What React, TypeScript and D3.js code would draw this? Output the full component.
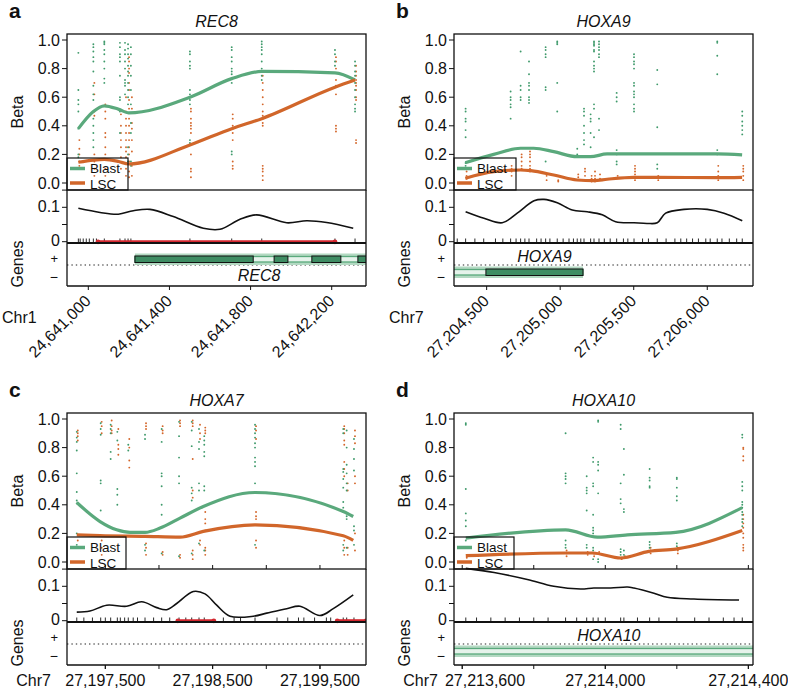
import React from "react";
import * as d3 from "d3";

const FONT = "'Liberation Sans', Arial, Helvetica, sans-serif";
const GREEN = "#5aa97c";
const ORANGE = "#d1662a";
const DOT_GREEN = "#3f9a6b";
const DOT_ORANGE = "#d4662a";
const RED = "#d3262e";

// ---------- Panel meta ----------
const panelLetters = ["a", "b", "c", "d"];
const geneTitles = ["REC8", "HOXA9", "HOXA7", "HOXA10"];
const chromNames = ["Chr1", "Chr7", "Chr7", "Chr7"];
const betaTicks = [0, 0.2, 0.4, 0.6, 0.8, 1.0];
const midTicks = [0, 0.05, 0.1, 0.15];
const midLabels = [0, 0.1];

const domainA = [24640895, 24642369];
const domainB = [27204278, 27206311];
const domainC = [27197143, 27199929];
const domainD = [27213577, 27214413];

const ticksA = [24641000, 24641400, 24641800, 24642200];
const ticksB = [27204500, 27205000, 27205500, 27206000];
const ticksC = [27197500, 27198500, 27199500];
const ticksD = [27213600, 27214000, 27214400];
const minorC = [27197500, 27198000, 27198500, 27199000, 27199500];
const minorD = [27213600, 27213800, 27214000, 27214200, 27214400];

// ---------- Smoothed beta lines ----------
const blastA: [number, number][] = [[24640951, 0.38], [24641025, 0.5], [24641079, 0.54], [24641150, 0.515], [24641199, 0.49], [24641501, 0.6], [24641707, 0.73], [24641855, 0.78], [24642216, 0.77], [24642315, 0.72]];
const lscA: [number, number][] = [[24640951, 0.145], [24641025, 0.16], [24641079, 0.165], [24641150, 0.15], [24641199, 0.133], [24641501, 0.266], [24641707, 0.38], [24641855, 0.45], [24642216, 0.67], [24642315, 0.72]];
const blastB: [number, number][] = [[27204355, 0.142], [27204548, 0.2], [27204730, 0.243], [27204820, 0.243], [27204956, 0.219], [27205115, 0.184], [27205206, 0.184], [27205319, 0.203], [27205500, 0.203], [27206067, 0.203], [27206237, 0.196]];
const lscB: [number, number][] = [[27204355, 0.033], [27204548, 0.079], [27204730, 0.091], [27204800, 0.086], [27204956, 0.056], [27205115, 0.021], [27205230, 0.016], [27205319, 0.026], [27205500, 0.04], [27205659, 0.04], [27206067, 0.037], [27206237, 0.04]];
const blastC: [number, number][] = [[27197234, 0.416], [27197451, 0.283], [27197606, 0.225], [27197730, 0.207], [27197870, 0.207], [27198010, 0.237], [27198196, 0.307], [27198413, 0.388], [27198895, 0.486], [27199717, 0.353], [27199810, 0.318]];
const lscC: [number, number][] = [[27197234, 0.19], [27197451, 0.184], [27197870, 0.179], [27198196, 0.174], [27198413, 0.214], [27198895, 0.26], [27199717, 0.184], [27199810, 0.151]];
const blastD: [number, number][] = [[27213610, 0.167], [27213889, 0.225], [27213978, 0.174], [27214062, 0.19], [27214197, 0.207], [27214383, 0.38]];
const lscD: [number, number][] = [[27213610, 0.044], [27213889, 0.063], [27213964, 0.063], [27214043, 0.028], [27214122, 0.074], [27214197, 0.09], [27214383, 0.22]];

// ---------- Middle track (black curve) ----------
const midA: [number, number][] = [[24640951, 0.097], [24641058, 0.085], [24641148, 0.08], [24641222, 0.09], [24641304, 0.094], [24641419, 0.073], [24641567, 0.039], [24641649, 0.036], [24641748, 0.065], [24641830, 0.078], [24641978, 0.055], [24642077, 0.061], [24642175, 0.056], [24642306, 0.039]];
const midB: [number, number][] = [[27204357, 0.087], [27204482, 0.068], [27204606, 0.055], [27204708, 0.083], [27204822, 0.119], [27204890, 0.123], [27204980, 0.113], [27205082, 0.092], [27205184, 0.087], [27205286, 0.078], [27205377, 0.058], [27205502, 0.055], [27205592, 0.053], [27205660, 0.055], [27205717, 0.083], [27205842, 0.094], [27206000, 0.094], [27206114, 0.083], [27206238, 0.061]];
const midC: [number, number][] = [[27197234, 0.025], [27197357, 0.028], [27197513, 0.045], [27197699, 0.042], [27197839, 0.055], [27197979, 0.038], [27198072, 0.032], [27198165, 0.05], [27198320, 0.085], [27198429, 0.078], [27198538, 0.045], [27198662, 0.013], [27198879, 0.013], [27199004, 0.022], [27199190, 0.035], [27199314, 0.042], [27199500, 0.015], [27199624, 0.035], [27199810, 0.075]];
const midD: [number, number][] = [[27213610, 0.152], [27213689, 0.14], [27213782, 0.12], [27213856, 0.1], [27213931, 0.092], [27213968, 0.095], [27214015, 0.095], [27214062, 0.098], [27214080, 0.095], [27214136, 0.08], [27214173, 0.068], [27214248, 0.063], [27214374, 0.06]];

// ---------- DMR segments ----------
const dmrA: [number, number][] = [[24641048, 24642216]];
const dmrB: [number, number][] = [];
const dmrC: [number, number][] = [[27198176, 27198511], [27199661, 27199929]];
const dmrD: [number, number][] = [];

// ---------- CpG dots ----------
const dotsPosA = [24640951, 24641025, 24641079, 24641156, 24641181, 24641196, 24641210, 24641501, 24641707, 24641855, 24642216, 24642315];
const dotsBlastA = [
  [0.91, 0.65, 0.58, 0.55, 0.5, 0.38, 0.2, 0.18],
  [0.97, 0.95, 0.92, 0.88, 0.85, 0.78, 0.68, 0.62, 0.58, 0.45, 0.4, 0.35, 0.3, 0.25],
  [0.99, 0.98, 0.97, 0.93, 0.9, 0.85, 0.8, 0.73, 0.7],
  [0.98, 0.95, 0.9, 0.88, 0.85, 0.75, 0.6, 0.58, 0.5, 0.35],
  [0.98, 0.93, 0.9, 0.85, 0.8, 0.72, 0.7, 0.68, 0.62],
  [0.97, 0.94, 0.9, 0.87, 0.82, 0.78, 0.75, 0.7, 0.65, 0.6, 0.55, 0.25, 0.2, 0.15],
  [0.95, 0.9, 0.82, 0.75, 0.65, 0.55, 0.42, 0.35, 0.15, 0.12],
  [0.92, 0.9, 0.85, 0.82, 0.8, 0.65, 0.62, 0.58, 0.55, 0.3, 0.28],
  [0.95, 0.93, 0.88, 0.85, 0.8, 0.78, 0.76, 0.73, 0.7, 0.22, 0.2],
  [0.99, 0.97, 0.95, 0.93, 0.9, 0.85, 0.8, 0.78, 0.75, 0.72],
  [0.93, 0.9, 0.85, 0.82],
  [0.85, 0.82, 0.78, 0.75, 0.7, 0.65, 0.6, 0.55, 0.52, 0.5],
];
const dotsLscA = [
  [0.3, 0.24, 0.2, 0.15, 0.12],
  [0.7, 0.62, 0.5, 0.47, 0.2, 0.15, 0.1, 0.05],
  [0.55, 0.5, 0.45, 0.35, 0.32, 0.25, 0.2, 0.1, 0.05],
  [0.48, 0.4, 0.35, 0.3, 0.25, 0.18, 0.1],
  [0.6, 0.5, 0.45, 0.4, 0.35, 0.3, 0.25, 0.22, 0.18, 0.1, 0.05],
  [0.88, 0.85, 0.8, 0.77, 0.7, 0.65, 0.58, 0.52, 0.45, 0.4, 0.35, 0.3, 0.25, 0.2, 0.15, 0.08, 0.04],
  [0.6, 0.52, 0.42, 0.38, 0.3, 0.22, 0.12, 0.05],
  [0.52, 0.5, 0.45, 0.42, 0.4, 0.38, 0.35, 0.2, 0.1, 0.08, 0.04],
  [0.48, 0.45, 0.4, 0.38, 0.35, 0.3, 0.15, 0.12, 0.1],
  [0.75, 0.7, 0.65, 0.6, 0.55, 0.5, 0.47, 0.45, 0.42, 0.4, 0.12, 0.1, 0.08, 0.05, 0.02],
  [0.88, 0.85, 0.8, 0.77, 0.72, 0.68, 0.62, 0.4, 0.38, 0.36],
  [0.82, 0.78, 0.75, 0.72, 0.7, 0.68, 0.65, 0.6, 0.58, 0.3, 0.28],
];

const dotsPosB = [27204357, 27204663, 27204731, 27204788, 27204901, 27204980, 27205116, 27205162, 27205207, 27205230, 27205264, 27205384, 27205502, 27205660, 27206068, 27206238];
const dotsBlastB = [
  [0.52, 0.5, 0.45, 0.43, 0.37, 0.32, 0.14, 0.12],
  [0.64, 0.6, 0.58, 0.55, 0.53, 0.45],
  [0.92, 0.68, 0.65, 0.6, 0.58],
  [0.85, 0.76, 0.7, 0.68, 0.65, 0.6, 0.58, 0.56],
  [0.95, 0.93, 0.9, 0.88, 0.67, 0.65, 0.15],
  [0.99, 0.98, 0.97, 0.7, 0.5],
  [0.24, 0.2],
  [0.52, 0.5, 0.47, 0.4, 0.35, 0.3, 0.27],
  [0.48, 0.45, 0.43, 0.35, 0.25],
  [0.99, 0.98, 0.97, 0.96, 0.93, 0.92, 0.85, 0.82, 0.8, 0.78, 0.55, 0.52, 0.32],
  [0.99, 0.97, 0.95, 0.93, 0.9, 0.88, 0.45, 0.37],
  [0.63, 0.6, 0.57, 0.23, 0.2, 0.15, 0.13],
  [0.9, 0.88, 0.85, 0.83, 0.8, 0.7, 0.68, 0.64, 0.62, 0.6, 0.55, 0.52, 0.5],
  [0.79, 0.69, 0.39, 0.13, 0.1],
  [0.99, 0.98, 0.89, 0.76, 0.23, 0.2],
  [0.5, 0.47, 0.43, 0.4, 0.37, 0.34],
];
const dotsLscB = [
  [0.08, 0.05, 0.03],
  [0.12, 0.1, 0.08, 0.05],
  [0.2, 0.18, 0.15, 0.12, 0.1],
  [0.22, 0.2, 0.18, 0.15, 0.12, 0.1, 0.08],
  [0.05, 0.02],
  [0.05, 0.02, 0.01],
  [0.06, 0.04, 0.02],
  [0.1, 0.08, 0.05],
  [0.05, 0.03, 0.01],
  [0.08, 0.05, 0.03, 0.02, 0.01],
  [0.06, 0.03],
  [0.05],
  [0.12, 0.1, 0.08, 0.06, 0.04, 0.02],
  [0.05, 0.02],
  [0.12, 0.08, 0.05, 0.02],
  [0.12, 0.1, 0.08, 0.05, 0.02],
];

const dotsPosC = [27197234, 27197457, 27197550, 27197612, 27197714, 27197870, 27198025, 27198187, 27198305, 27198373, 27198422, 27198895, 27199717, 27199749, 27199817];
const dotsBlastC = [
  [0.91, 0.87, 0.84, 0.78, 0.62, 0.49, 0.43, 0.41, 0.2, 0.12],
  [0.97, 0.93, 0.89, 0.57, 0.55, 0.36],
  [0.96, 0.93, 0.9, 0.77, 0.72],
  [0.91, 0.85, 0.51, 0.47, 0.4],
  [0.82, 0.78],
  [0.89, 0.86, 0.12, 0.08],
  [0.93, 0.84, 0.62, 0.6, 0.53, 0.4, 0.33, 0.06],
  [0.98, 0.88, 0.73, 0.6, 0.55, 0.04],
  [0.98, 0.92, 0.81, 0.52, 0.48, 0.43, 0.06],
  [0.93, 0.84, 0.79, 0.55, 0.5, 0.13],
  [0.88, 0.85, 0.82, 0.77, 0.74, 0.53, 0.5, 0.08],
  [0.96, 0.93, 0.9, 0.87, 0.83, 0.8, 0.73, 0.7, 0.67, 0.55, 0.12],
  [0.93, 0.9, 0.65, 0.63, 0.58, 0.52, 0.42, 0.38, 0.35, 0.12, 0.08],
  [0.92, 0.8, 0.68, 0.62, 0.55, 0.5, 0.32, 0.3, 0.1],
  [0.86, 0.79, 0.72, 0.64, 0.25, 0.22, 0.12],
];
const dotsLscC = [
  [0.92, 0.9, 0.88, 0.85, 0.15, 0.1],
  [0.98, 0.95, 0.9, 0.15, 0.1, 0.05],
  [0.99, 0.95, 0.92, 0.9],
  [0.93, 0.82, 0.79, 0.75],
  [0.86, 0.8, 0.71, 0.66],
  [0.97, 0.95, 0.93, 0.13, 0.1, 0.05],
  [0.95, 0.92, 0.9, 0.07, 0.05],
  [0.99, 0.97, 0.95, 0.05, 0.03],
  [0.99, 0.97, 0.95, 0.72, 0.5, 0.45, 0.08, 0.05, 0.02],
  [0.96, 0.9, 0.86, 0.15, 0.12],
  [0.94, 0.92, 0.9, 0.35, 0.3, 0.27, 0.22, 0.1, 0.08, 0.05],
  [0.95, 0.92, 0.86, 0.35, 0.32, 0.3, 0.15, 0.1],
  [0.95, 0.93, 0.9, 0.85, 0.82, 0.7, 0.65, 0.6, 0.15, 0.1, 0.05],
  [0.55, 0.5, 0.1, 0.05],
  [0.92, 0.88, 0.83, 0.6, 0.55, 0.2, 0.08],
];

const dotsPosD = [27213610, 27213889, 27213948, 27213966, 27213980, 27214043, 27214052, 27214124, 27214200, 27214383];
const dotsBlastD = [
  [0.97, 0.96, 0.51, 0.34, 0.29, 0.25, 0.15],
  [0.9, 0.62, 0.6, 0.58, 0.55, 0.15, 0.12, 0.1],
  [0.6, 0.52, 0.5, 0.48, 0.36, 0.12, 0.1],
  [0.73, 0.7, 0.55, 0.53, 0.33, 0.24, 0.22, 0.2, 0.1, 0.08, 0.02],
  [0.99, 0.98, 0.7, 0.68, 0.64, 0.48, 0.02, 0.0],
  [0.96, 0.93, 0.55, 0.44, 0.41, 0.09, 0.07, 0.05],
  [0.79, 0.61, 0.37, 0.35, 0.08, 0.05, 0.03],
  [0.65, 0.59, 0.57, 0.53, 0.52, 0.14, 0.12, 0.1],
  [0.59, 0.58, 0.52, 0.46, 0.43, 0.13, 0.11],
  [0.89, 0.87, 0.56, 0.53, 0.5, 0.42, 0.4, 0.38, 0.35, 0.33, 0.3, 0.28, 0.25],
];
const dotsLscD = [
  [0.05, 0.03],
  [0.08, 0.06, 0.04],
  [0.07, 0.05],
  [0.06, 0.04],
  [0.07],
  [0.03, 0.02],
  [0.04],
  [0.1, 0.08, 0.06],
  [0.1, 0.08, 0.06],
  [0.8, 0.79, 0.74, 0.71, 0.33, 0.3, 0.27, 0.24, 0.2, 0.17, 0.12, 0.1, 0.08],
];

// extra CpG positions for the rug
const rugExtraA = [24640960, 24640975, 24640990, 24641005, 24641040];
const rugExtraB = [27204300, 27204420, 27204480, 27204560, 27204610, 27204700, 27204760, 27204840, 27204870, 27204930, 27205020, 27205060, 27205090, 27205140, 27205300, 27205340, 27205430, 27205460, 27205560, 27205600, 27205720, 27205780, 27205820, 27205860, 27205900, 27205940, 27205990, 27206020, 27206100, 27206150, 27206200];
const rugExtraC = [27197300, 27197380, 27197500, 27197640, 27197680, 27197760, 27197800, 27197950, 27198100, 27198250, 27198600, 27198700, 27198760, 27199100, 27199200, 27199300, 27199350, 27199450, 27199560, 27199600];
const rugExtraD = [27213640, 27213680, 27213720, 27213760, 27213800, 27213840, 27213920, 27214000, 27214090, 27214150, 27214250, 27214290, 27214330, 27214360];

// ---------- Genes ----------
type Gene = { name: string; start: number; end: number; strand: "+" | "-"; exons: [number, number][]; labelPos: number };
const genesA: Gene[] = [{ name: "REC8", start: 24641230, end: 24642500, strand: "+", exons: [[24641230, 24641813], [24641916, 24641984], [24642102, 24642245], [24642329, 24642500]], labelPos: 24641842 }];
const genesB: Gene[] = [{ name: "HOXA9", start: 27204100, end: 27205155, strand: "-", exons: [[27204495, 27205155]], labelPos: 27204893 }];
const genesC: Gene[] = [];
const genesD: Gene[] = [{ name: "HOXA10", start: 27213400, end: 27214600, strand: "-", exons: [], labelPos: 27214010 }];

type Cfg = {
  idx: number; left: number; right: number; top: number; domain: number[]; ticks: number[]; minor: number[];
  rotated: boolean; blast: [number, number][]; lsc: [number, number][]; mid: [number, number][];
  dmr: [number, number][]; dotPos: number[]; dotBlast: number[][]; dotLsc: number[][]; rugExtra: number[];
  genes: Gene[]; legendW: number;
};

const fmt = d3.format(",");

function Panel({ c }: { c: Cfg }) {
  const T = c.top;
  const L = c.left, R = c.right;
  const x = d3.scaleLinear().domain(c.domain).range([L, R]);
  const yB = d3.scaleLinear().domain([0, 1]).range([T + 149, T + 6]);
  const yM = d3.scaleLinear().domain([0, 0.1]).range([T + 207.7, T + 173.3]);
  const betaBot = T + 156, midBot = T + 209, genesBot = T + 252;
  const strandY = T + 231;
  const line = d3.line<[number, number]>().x((d) => x(d[0])).y((d) => yB(d[1])).curve(d3.curveMonotoneX);
  const mline = d3.line<[number, number]>().x((d) => x(d[0])).y((d) => yM(d[1])).curve(d3.curveCatmullRom.alpha(0.5));
  const clipId = `clip${c.idx}`;
  const rug = [...c.dotPos, ...c.rugExtra];
  const txt = { fontFamily: FONT, fill: "#111" } as const;
  const chromEnd = c.rotated ? L - 32 : L - 16;

  return (
    <g>
      <defs>
        <clipPath id={clipId}>
          <rect x={L} y={T} width={R - L} height={genesBot - T} />
        </clipPath>
      </defs>
      {/* letter and title */}
      <text x={L - 58} y={c.top - 16} fontSize={21} fontWeight="bold" {...txt}>{panelLetters[c.idx]}</text>
      <text x={(L + R) / 2} y={T - 7} fontSize={16} fontStyle="italic" textAnchor="middle" {...txt}>{geneTitles[c.idx]}</text>

      {/* dots */}
      <g clipPath={`url(#${clipId})`}>
        {c.dotPos.map((p, i) => (
          <g key={"l" + i}>
            {c.dotLsc[i].map((v, j) => <circle key={j} cx={x(p) + 1} cy={yB(v)} r={0.95} fill={DOT_ORANGE} />)}
          </g>
        ))}
        {c.dotPos.map((p, i) => (
          <g key={"b" + i}>
            {c.dotBlast[i].map((v, j) => <circle key={j} cx={x(p)} cy={yB(v)} r={0.95} fill={DOT_GREEN} />)}
          </g>
        ))}
        <path d={line(c.blast) || ""} fill="none" stroke={GREEN} strokeWidth={3.2} strokeLinejoin="round" />
        <path d={line(c.lsc) || ""} fill="none" stroke={ORANGE} strokeWidth={3.2} strokeLinejoin="round" />
        {/* middle track */}
        <path d={mline(c.mid) || ""} fill="none" stroke="#111" strokeWidth={1.6} />
        {rug.map((p, i) => <line key={"r" + i} x1={x(p)} x2={x(p)} y1={T + 204.5} y2={T + 208} stroke="#111" strokeWidth={0.9} />)}
        {c.dmr.map((s, i) => (
          <g key={"d" + i}>
            <line x1={x(s[0])} x2={x(s[1])} y1={T + 207.8} y2={T + 207.8} stroke={RED} strokeWidth={3.2} />
            <circle cx={x(s[0])} cy={T + 207.8} r={2.4} fill={RED} />
            <circle cx={x(s[1])} cy={T + 207.8} r={2.4} fill={RED} />
          </g>
        ))}
        {/* genes */}
        <line x1={L} x2={R} y1={strandY} y2={strandY} stroke="#222" strokeWidth={1.2} strokeDasharray="1.4,3" />
        {c.genes.map((g, i) => {
          const y0 = g.strand === "+" ? T + 219.5 : T + 232.5;
          const h = 11.5;
          return (
            <g key={"g" + i}>
              <rect x={x(g.start)} y={y0} width={x(g.end) - x(g.start)} height={h} fill="#b3d9c2" />
              <rect x={x(g.start)} y={y0 + 3} width={x(g.end) - x(g.start)} height={h - 6} fill="#e6f3eb" stroke="#5aa97c" strokeWidth={1.3} />
              {g.exons.map((e, k) => (
                <rect key={k} x={x(e[0])} y={y0 + 2.5} width={x(e[1]) - x(e[0])} height={h - 5} fill="#3e8d63" stroke="#111" strokeWidth={1} />
              ))}
            </g>
          );
        })}
      </g>
      {c.genes.map((g, i) => (
        <text key={"gl" + i} x={x(g.labelPos)} y={g.strand === "+" ? T + 247 : T + 228} fontSize={16} fontStyle="italic" textAnchor="middle" {...txt}>{g.name}</text>
      ))}

      {/* legend */}
      <rect x={L} y={T + 124} width={c.legendW} height={32} fill="none" stroke="#111" strokeWidth={1.2} />
      <line x1={L + 3} x2={L + 18} y1={T + 134.5} y2={T + 134.5} stroke={GREEN} strokeWidth={3.5} />
      <line x1={L + 3} x2={L + 18} y1={T + 149} y2={T + 149} stroke={ORANGE} strokeWidth={3.5} />
      <text x={L + 23} y={T + 139} fontSize={13.5} {...txt}>Blast</text>
      <text x={L + 23} y={T + 154.5} fontSize={13.5} {...txt}>LSC</text>

      {/* frames */}
      <rect x={L} y={T} width={R - L} height={betaBot - T} fill="none" stroke="#111" strokeWidth={1.3} />
      <line x1={L} x2={L} y1={betaBot} y2={genesBot} stroke="#111" strokeWidth={1.3} />
      <line x1={R} x2={R} y1={betaBot} y2={genesBot} stroke="#111" strokeWidth={1.3} />
      <line x1={L} x2={R} y1={genesBot} y2={genesBot} stroke="#111" strokeWidth={1.3} />
      <line x1={L} x2={R} y1={midBot} y2={midBot} stroke="#111" strokeWidth={2.2} />

      {/* beta axis */}
      {betaTicks.map((t) => (
        <g key={"bt" + t}>
          <line x1={L - 5} x2={L} y1={yB(t)} y2={yB(t)} stroke="#111" strokeWidth={1} />
          <text x={L - 7} y={yB(t) + 5.5} fontSize={16} textAnchor="end" {...txt}>{t.toFixed(1)}</text>
        </g>
      ))}
      <text transform={`translate(${L - 44},${T + 78}) rotate(-90)`} fontSize={16} textAnchor="middle" {...txt}>Beta</text>
      {c.minor.map((t) => <line key={"mn" + t} x1={x(t)} x2={x(t)} y1={betaBot - 4} y2={betaBot} stroke="#111" strokeWidth={1} />)}

      {/* middle axis */}
      {midTicks.map((t) => <line key={"mt" + t} x1={L - 5} x2={L} y1={yM(t)} y2={yM(t)} stroke="#111" strokeWidth={1} />)}
      {midLabels.map((t) => (
        <text key={"ml" + t} x={L - 7} y={yM(t) + 4.5} fontSize={16} textAnchor="end" {...txt}>{String(t)}</text>
      ))}

      {/* genes axis */}
      <text x={L - 9} y={T + 228.5} fontSize={13} textAnchor="end" {...txt}>+</text>
      <text x={L - 9} y={T + 248} fontSize={14} textAnchor="end" {...txt}>−</text>
      <text transform={`translate(${L - 44},${T + 230}) rotate(-90)`} fontSize={16} textAnchor="middle" {...txt}>Genes</text>

      {/* x axis */}
      {c.ticks.map((t) => (
        <g key={"xt" + t}>
          <line x1={x(t)} x2={x(t)} y1={genesBot} y2={genesBot + 4} stroke="#111" strokeWidth={1} />
          {c.rotated ? (
            <text transform={`translate(${x(t) + 3.5},${genesBot + 16}) rotate(-45)`} fontSize={16} textAnchor="end" {...txt}>{fmt(t)}</text>
          ) : (
            <text x={Math.max(x(t), chromEnd + 47)} y={genesBot + 21} fontSize={16} textAnchor="middle" {...txt}>{fmt(t)}</text>
          )}
        </g>
      ))}
      {!c.rotated && c.minor.map((t) => <line key={"xm" + t} x1={x(t)} x2={x(t)} y1={genesBot} y2={genesBot + 4} stroke="#111" strokeWidth={1} />)}
      <text x={c.rotated ? chromEnd - 33 : chromEnd} y={c.rotated ? genesBot + 37 : genesBot + 21} fontSize={16} textAnchor={c.rotated ? "start" : "end"} {...txt}>{chromNames[c.idx]}</text>
    </g>
  );
}

const configs: Cfg[] = [
  { idx: 0, left: 67, right: 366, top: 34, domain: domainA, ticks: ticksA, minor: [], rotated: true, blast: blastA, lsc: lscA, mid: midA, dmr: dmrA, dotPos: dotsPosA, dotBlast: dotsBlastA, dotLsc: dotsLscA, rugExtra: rugExtraA, genes: genesA, legendW: 61 },
  { idx: 1, left: 454, right: 753, top: 34, domain: domainB, ticks: ticksB, minor: [], rotated: true, blast: blastB, lsc: lscB, mid: midB, dmr: dmrB, dotPos: dotsPosB, dotBlast: dotsBlastB, dotLsc: dotsLscB, rugExtra: rugExtraB, genes: genesB, legendW: 62 },
  { idx: 2, left: 67, right: 366, top: 413, domain: domainC, ticks: ticksC, minor: minorC, rotated: false, blast: blastC, lsc: lscC, mid: midC, dmr: dmrC, dotPos: dotsPosC, dotBlast: dotsBlastC, dotLsc: dotsLscC, rugExtra: rugExtraC, genes: genesC, legendW: 59 },
  { idx: 3, left: 454, right: 753, top: 413, domain: domainD, ticks: ticksD, minor: minorD, rotated: false, blast: blastD, lsc: lscD, mid: midD, dmr: dmrD, dotPos: dotsPosD, dotBlast: dotsBlastD, dotLsc: dotsLscD, rugExtra: rugExtraD, genes: genesD, legendW: 60 },
];

export default function App() {
  return (
    <svg width={788} height={689} viewBox="0 0 788 689" style={{ position: "absolute", left: 0, top: 0, background: "#fff" }}>
      <rect width={788} height={689} fill="#fff" />
      {configs.map((c) => <Panel key={c.idx} c={c} />)}
    </svg>
  );
}
